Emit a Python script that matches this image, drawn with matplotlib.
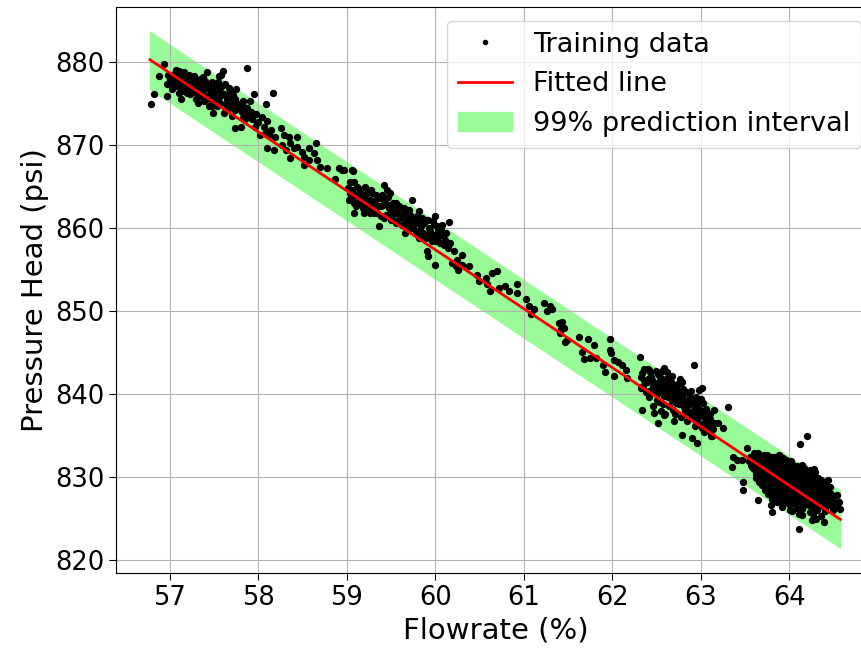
import matplotlib
matplotlib.use("Agg")
import matplotlib.pyplot as plt

# training data, grouped by flowrate region
flow_a = [56.79, 56.82, 56.88, 56.93, 56.98, 56.97, 56.97, 57.00, 57.06, 57.10,
          57.14, 57.08, 57.14, 57.12, 57.17, 57.21, 57.19, 57.25, 57.27, 57.23,
          57.31, 57.32, 57.29, 57.34, 57.36, 57.42, 57.40, 57.44, 57.46, 57.48,
          57.49, 57.53, 57.55, 57.60, 57.59, 57.61, 57.57, 57.65, 57.68, 57.66,
          57.72, 57.70, 57.76, 57.74, 57.82, 57.80, 57.87, 57.83, 57.87, 57.91,
          57.95, 57.89, 57.93, 57.97, 57.98, 58.02, 58.06, 58.10, 58.09, 58.17,
          58.14, 58.12, 58.10, 58.19, 58.25, 58.29, 58.34, 58.36, 58.44, 58.27,
          58.18, 58.31, 58.40, 58.44, 58.49, 58.51, 58.57, 58.65, 58.63, 58.66,
          58.51, 58.57, 58.36, 58.70, 58.78, 58.91, 58.97, 59.06,
          57.15, 57.19, 57.25, 57.31, 57.36, 57.38, 57.42, 57.48, 57.51, 57.53,
          57.57, 57.63, 57.27, 57.34, 57.21, 57.04, 57.02, 57.10, 57.32, 57.44,
          57.49, 57.61, 57.70, 57.74, 57.80, 57.82, 57.85,
          57.03, 57.05, 57.07, 57.09, 57.11, 57.13, 57.16, 57.18, 57.20, 57.22,
          57.24, 57.26, 57.28, 57.30, 57.33, 57.35, 57.37, 57.39, 57.41, 57.43,
          57.45, 57.47, 57.50, 57.52, 57.54, 57.56, 57.58, 57.62, 57.64, 57.67,
          57.69, 57.71, 57.73, 57.75, 57.78, 57.81, 57.84, 57.88, 57.92, 57.96,
          58.00, 58.04, 58.08]
head_a = [874.9, 876.2, 878.3, 879.8, 878.5, 877.3, 875.9, 877.9, 878.7, 878.9,
          878.3, 877.1, 876.5, 875.5, 878.1, 877.5, 876.9, 877.9, 877.1, 876.1,
          877.5, 876.7, 875.5, 875.9, 877.1, 878.8, 877.7, 876.7, 875.5, 874.7,
          876.1, 877.1, 878.3, 878.9, 877.1, 876.1, 875.1, 875.5, 876.5, 874.3,
          875.1, 873.5, 874.3, 872.0, 873.3, 872.2, 879.3, 875.3, 874.5, 875.3,
          876.1, 873.5, 873.1, 873.7, 872.7, 871.2, 872.2, 872.9, 874.9, 876.3,
          871.8, 871.2, 869.6, 871.0, 872.0, 871.2, 871.0, 870.2, 871.0, 870.0,
          869.4, 869.4, 869.6, 869.8, 869.2, 868.6, 869.6, 870.2, 869.0, 868.2,
          867.6, 868.2, 868.4, 867.4, 867.2, 867.2, 867.0, 867.0,
          877.1, 876.3, 876.7, 876.3, 876.1, 875.3, 875.9, 876.9, 875.5, 874.7,
          875.9, 874.9, 878.3, 877.9, 878.5, 877.5, 876.7, 876.3, 875.1, 874.7,
          873.9, 873.9, 875.7, 875.5, 874.7, 873.9, 873.1,
          878.0, 877.2, 879.1, 877.6, 878.6, 877.0, 878.8, 877.8, 876.6, 878.2,
          877.4, 876.4, 878.0, 876.9, 877.6, 876.4, 878.2, 876.8, 875.6, 877.2,
          876.2, 877.6, 876.6, 875.6, 877.6, 876.4, 878.4, 877.4, 875.8, 876.9,
          874.8, 876.0, 874.2, 876.8, 875.0, 874.0, 874.6, 873.8, 874.0, 872.2,
          872.8, 873.4, 871.6]

flow_c = [58.94, 59.07, 58.86, 59.08, 59.11, 59.04, 59.02, 59.08, 59.15, 59.19,
          59.23, 59.21, 59.26, 59.25, 59.08, 59.19, 59.30, 59.34, 59.36, 59.42,
          59.45, 59.49, 59.43, 59.47, 59.53, 59.51, 59.57, 59.60, 59.64, 59.62,
          59.66, 59.72, 59.74, 59.75, 59.79, 59.81, 59.83, 59.87, 59.89, 59.92,
          59.94, 59.96, 60.00, 60.02, 60.04, 59.91, 59.92, 60.00, 60.06, 60.09,
          60.11, 60.15, 60.13, 60.17, 60.21, 60.25, 60.19, 60.23, 60.26, 60.30,
          60.30, 60.38,
          59.13, 59.17, 59.28, 59.32, 59.38, 59.40, 59.55, 59.58, 59.68, 59.70,
          59.77, 59.85, 59.49, 59.42, 59.26, 59.55, 59.68, 59.81, 59.98,
          59.01, 59.03, 59.05, 59.06, 59.09, 59.10, 59.12, 59.14, 59.16, 59.18,
          59.20, 59.22, 59.24, 59.27, 59.29, 59.31, 59.33, 59.35, 59.37, 59.39,
          59.41, 59.44, 59.46, 59.48, 59.50, 59.52, 59.54, 59.56, 59.59, 59.61,
          59.63, 59.65, 59.67, 59.69, 59.71, 59.73, 59.76, 59.78, 59.80, 59.82,
          59.84, 59.86, 59.88, 59.90, 59.93, 59.95, 59.97, 59.99, 60.01, 60.03,
          60.05, 60.07, 60.10, 60.12, 60.14]
head_c = [867.0, 866.9, 865.9, 865.5, 865.0, 864.2, 863.4, 863.0, 864.4, 863.8,
          864.2, 863.0, 863.4, 862.4, 861.8, 861.8, 862.6, 861.8, 860.2, 865.2,
          864.6, 864.2, 863.4, 862.8, 862.2, 861.4, 861.8, 861.2, 862.0, 860.4,
          859.4, 860.8, 863.4, 860.2, 861.4, 862.0, 859.8, 860.6, 858.8, 861.0,
          859.6, 858.4, 861.4, 860.2, 859.0, 857.2, 856.6, 855.5, 859.8, 859.2,
          858.6, 860.7, 858.0, 858.2, 857.2, 856.2, 855.8, 855.4, 855.0, 856.8,
          855.6, 855.4,
          863.8, 863.2, 864.2, 863.2, 862.6, 864.0, 863.0, 862.4, 861.4, 862.2,
          860.8, 861.2, 861.8, 861.2, 861.8, 860.6, 860.2, 859.2, 860.4,
          864.8, 865.6, 863.6, 864.6, 864.0, 862.6, 864.8, 863.0, 864.0, 862.4,
          865.0, 863.4, 862.2, 864.6, 863.0, 861.8, 864.0, 862.6, 863.6, 861.4,
          862.8, 861.6, 863.8, 862.4, 861.0, 863.0, 861.8, 860.8, 862.6, 861.4,
          860.4, 862.4, 860.8, 859.8, 861.6, 860.0, 861.2, 859.6, 860.6, 858.8,
          860.2, 859.4, 861.0, 859.0, 860.0, 858.8, 860.8, 859.2, 858.4, 859.6,
          858.2, 860.4, 858.0, 859.4, 857.6]

flow_d = [60.47, 60.49, 60.57, 60.58, 60.64, 60.70, 60.62, 60.72, 60.79, 60.83,
          60.92, 60.92, 61.02, 61.06, 61.08, 61.11, 61.23, 61.30, 61.32, 61.26,
          61.40, 61.42, 61.45, 61.43, 61.41, 61.47, 61.49, 61.62, 61.73, 61.79,
          61.66, 61.68, 61.75, 61.82, 61.97, 61.97, 61.99, 62.02, 61.90, 61.92,
          62.02, 62.07, 62.11, 62.15, 62.17]
head_d = [854.4, 853.6, 854.0, 853.2, 854.6, 854.8, 852.4, 852.8, 853.0, 852.4,
          853.2, 852.2, 851.4, 850.6, 849.6, 850.2, 851.0, 850.6, 850.2, 850.0,
          848.6, 847.8, 848.0, 848.7, 847.3, 846.3, 846.5, 846.9, 846.6, 845.9,
          845.1, 844.2, 844.4, 844.3, 846.6, 845.3, 844.9, 844.1, 843.5, 842.7,
          842.2, 843.9, 843.5, 842.9, 841.9]

flow_e = [62.31, 62.34, 62.36, 62.32, 62.34, 62.41, 62.45, 62.47, 62.50, 62.54,
          62.58, 62.62, 62.56, 62.50, 62.47, 62.52, 62.58, 62.62, 62.66, 62.67,
          62.71, 62.69, 62.72, 62.76, 62.79, 62.81, 62.84, 62.86, 62.88, 62.79,
          62.90, 62.92, 62.92, 62.95, 62.93, 62.98, 63.00, 63.01, 62.96, 63.01,
          63.03, 63.07, 63.09, 63.13, 63.15, 63.15, 63.20, 63.25, 63.31,
          62.35, 62.38, 62.40, 62.42, 62.44, 62.48, 62.50, 62.52, 62.53, 62.55,
          62.57, 62.60, 62.61, 62.63, 62.64, 62.66, 62.68, 62.70, 62.71, 62.73,
          62.75, 62.77, 62.78, 62.80, 62.82, 62.83, 62.85, 62.87, 62.88, 62.90,
          62.91, 62.94, 62.96, 62.97, 63.00, 63.02, 63.04, 63.05, 63.08, 63.10,
          63.12, 62.55, 62.46, 62.40, 62.58, 62.65, 62.74, 62.86,
          62.33, 62.36, 62.39, 62.41, 62.43, 62.46, 62.49, 62.51, 62.54, 62.56,
          62.59, 62.62, 62.64, 62.67, 62.69, 62.72, 62.74, 62.76, 62.79, 62.81,
          62.83, 62.86, 62.89, 62.91, 62.93, 62.95, 62.98, 63.00, 63.03, 63.06,
          63.09, 63.11, 63.14, 62.60, 62.70]
head_e = [844.5, 842.5, 841.7, 840.7, 838.1, 842.9, 841.7, 840.5, 841.3, 842.1,
          843.1, 842.7, 840.5, 839.3, 837.7, 836.5, 837.5, 840.9, 840.1, 839.3,
          841.1, 838.1, 838.9, 840.1, 841.5, 839.3, 838.5, 840.1, 837.7, 835.1,
          834.7, 843.5, 839.3, 838.3, 836.9, 840.5, 837.5, 840.7, 834.1, 835.9,
          838.9, 837.1, 835.5, 834.9, 838.1, 836.5, 836.5, 835.9, 838.4,
          841.0, 840.2, 841.8, 839.6, 842.0, 841.2, 840.0, 842.4, 839.0, 841.6,
          838.8, 840.4, 841.8, 839.6, 838.6, 841.4, 840.6, 839.8, 837.6, 840.0,
          838.8, 839.4, 837.2, 840.6, 838.0, 839.0, 836.8, 838.8, 839.6, 837.2,
          838.0, 836.2, 837.0, 839.0, 836.4, 837.8, 835.4, 836.6, 836.0, 837.0,
          835.0, 838.0, 838.6, 843.0, 841.0, 842.0, 841.2, 837.8,
          842.0, 843.0, 841.4, 840.4, 842.6, 841.0, 842.8, 840.8, 841.4, 842.8,
          839.8, 841.2, 840.2, 842.2, 840.8, 839.2, 840.4, 841.8, 839.8, 838.4,
          840.2, 839.0, 840.4, 838.8, 837.6, 839.6, 838.2, 839.4, 837.4, 838.2,
          836.4, 837.6, 835.8, 837.6, 836.8]

flow_f = [63.37, 63.35, 63.41, 63.47, 63.52, 63.48, 63.48, 63.58, 63.60, 63.65,
          63.65, 63.67, 63.71, 63.79, 63.84, 63.90, 63.79, 63.80, 63.92, 64.01,
          64.11, 64.11, 64.12, 64.20, 64.28, 64.26, 64.30, 64.39, 64.44, 64.46,
          64.50, 64.54, 64.56, 64.57,
          63.56, 63.63, 63.69, 63.75, 63.82, 63.88, 63.93,
          63.54, 63.60, 63.66, 63.72, 63.78, 63.84, 63.90, 63.96, 64.02,
          63.57, 63.63, 63.69, 63.74, 63.80, 63.86, 63.91, 63.97, 64.03, 64.09, 64.14,
          63.60, 63.66, 63.71, 63.77, 63.83, 63.88, 63.94, 64.00, 64.05, 64.11, 64.17, 64.23,
          63.62, 63.68, 63.74, 63.79, 63.85, 63.90, 63.96, 64.02, 64.07, 64.13, 64.19, 64.25, 64.29,
          63.63, 63.69, 63.75, 63.81, 63.86, 63.92, 63.98, 64.04, 64.09, 64.15, 64.21, 64.27, 64.33,
          63.66, 63.72, 63.78, 63.84, 63.89, 63.95, 64.01, 64.06, 64.12, 64.18, 64.24, 64.30, 64.36, 64.41,
          63.69, 63.75, 63.81, 63.87, 63.93, 63.98, 64.04, 64.10, 64.16, 64.21, 64.27, 64.33, 64.39, 64.44,
          63.73, 63.79, 63.85, 63.91, 63.96, 64.02, 64.08, 64.14, 64.19, 64.25, 64.31, 64.37, 64.43,
          63.76, 63.82, 63.88, 63.94, 64.00, 64.06, 64.12, 64.17, 64.23, 64.29, 64.35, 64.41, 64.47,
          63.80, 63.86, 63.92, 63.98, 64.04, 64.10, 64.15, 64.21, 64.27, 64.33, 64.39, 64.45, 64.50,
          63.86, 63.93, 64.00, 64.07, 64.13, 64.19, 64.25, 64.31, 64.37, 64.43, 64.49, 64.54,
          63.92, 64.01, 64.09, 64.16, 64.22, 64.28, 64.34, 64.40, 64.46, 64.52,
          64.03, 64.14, 64.23, 64.32, 64.41, 64.50,
          64.15, 64.27, 64.36]
head_f = [832.4, 831.2, 832.0, 832.1, 833.5, 829.4, 828.4, 831.2, 832.9, 832.9,
          827.2, 832.5, 832.6, 832.4, 832.4, 832.5, 826.6, 825.8, 827.0, 826.0,
          825.6, 823.7, 834.0, 834.9, 831.0, 824.8, 825.0, 824.6, 829.6, 828.8,
          826.0, 827.8, 827.0, 826.2,
          832.4, 832.7, 832.3, 832.6, 832.4, 832.6, 832.3,
          831.9, 832.1, 831.8, 832.0, 831.9, 832.1, 831.8, 832.0, 831.9,
          831.4, 831.6, 831.3, 831.5, 831.6, 831.3, 831.5, 831.4, 831.6, 831.3, 831.5,
          831.0, 830.8, 831.1, 830.9, 831.0, 830.8, 831.1, 830.9, 831.0, 830.8, 831.1, 830.9,
          830.4, 830.6, 830.3, 830.5, 830.6, 830.4, 830.5, 830.3, 830.6, 830.4, 830.5, 830.3, 830.6,
          829.9, 830.1, 829.8, 830.0, 829.9, 830.1, 829.8, 830.0, 829.9, 830.1, 829.8, 830.0, 829.9,
          829.4, 829.6, 829.3, 829.5, 829.6, 829.4, 829.5, 829.3, 829.6, 829.4, 829.5, 829.3, 829.6, 829.4,
          829.0, 828.8, 829.1, 828.9, 829.0, 828.8, 829.1, 828.9, 829.0, 828.8, 829.1, 828.9, 829.0, 828.8,
          828.4, 828.6, 828.3, 828.5, 828.6, 828.4, 828.5, 828.3, 828.6, 828.4, 828.5, 828.3, 828.6,
          828.0, 827.8, 828.1, 827.9, 828.0, 827.8, 828.1, 827.9, 828.0, 827.8, 828.1, 827.9, 828.0,
          827.4, 827.6, 827.3, 827.5, 827.6, 827.4, 827.5, 827.3, 827.6, 827.4, 827.5, 827.3, 827.6,
          827.0, 826.8, 827.1, 826.9, 827.0, 826.8, 827.1, 826.9, 827.0, 826.8, 827.1, 826.9,
          826.4, 826.6, 826.3, 826.5, 826.6, 826.4, 826.5, 826.3, 826.6, 826.4,
          825.9, 826.1, 825.8, 826.0, 825.9, 826.1,
          825.4, 825.6, 825.3]

flow = flow_a + flow_c + flow_d + flow_e + flow_f
head = head_a + head_c + head_d + head_e + head_f

# fitted line and 99% band end points
fit_x = [56.774, 64.577]
fit_y = [880.28, 824.9]
band_lo = [876.75, 821.5]
band_hi = [883.65, 828.35]

fig = plt.figure(figsize=(8.61, 6.53), dpi=100)
# axes runs a bit past the right edge, like the cropped original
ax = fig.add_axes([116 / 861, 1 - 572.7 / 653, 759 / 861, 565.4 / 653])

ax.fill_between(fit_x, band_lo, band_hi, color='palegreen', label='99% prediction interval')
ax.plot(flow, head, '.', color='black', ms=8.5, label='Training data')
ax.plot(fit_x, fit_y, color='red', lw=2, label='Fitted line')

ax.set_xlim(56.39, 64.97)
ax.set_ylim(818.47, 886.6)
ax.set_xticks(range(57, 65))
ax.set_yticks(range(820, 881, 10))
ax.grid(True)
ax.tick_params(labelsize=18.5, length=5)
ax.set_xlabel('Flowrate (%)', fontsize=21)
ax.set_ylabel('Pressure Head (psi)', fontsize=21)

handles, labels = ax.get_legend_handles_labels()
order = [1, 2, 0]
ax.legend([handles[i] for i in order], [labels[i] for i in order],
          loc='upper right', fontsize=19.5, markerscale=0.7)

fig.savefig('out.png', dpi=100)
